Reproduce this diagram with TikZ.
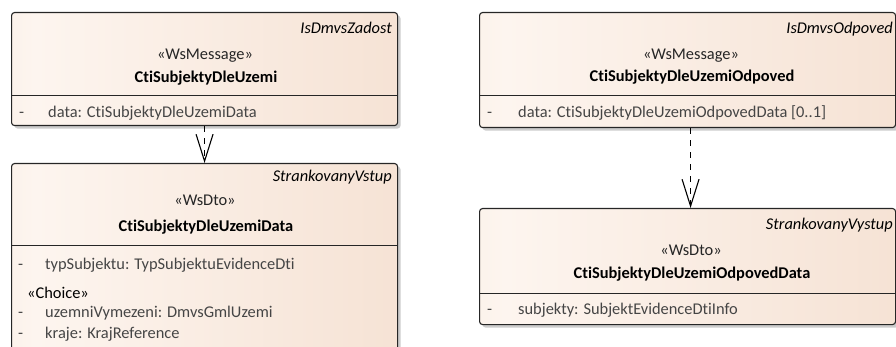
\documentclass[tikz,border=0pt]{standalone}
\usepackage{fontspec}
\setmainfont{Carlito}[Ligatures=NoCommon]
\usetikzlibrary{arrows.meta,shadows}
\definecolor{pL}{HTML}{F4DDCC}
\definecolor{pW}{HTML}{FDF5EF}
\definecolor{pR}{HTML}{F2D9C7}
\definecolor{attrgray}{HTML}{454545}
\pgfdeclarehorizontalshading{umlfill}{100bp}{color(0bp)=(pL); color(28bp)=(pW); color(100bp)=(pR)}
\newcommand\umlfont{\fontsize{16.4}{19}\selectfont}
\tikzset{
  umlbox/.style={draw=black!85, line width=1.1pt, rounded corners=3pt, shade, shading=umlfill,
    anchor=north west, inner sep=0pt,
    drop shadow={shadow xshift=3pt, shadow yshift=-3pt, fill=black!20, opacity=1}},
  sepline/.style={draw=black!85, line width=1pt},
  basetxt/.style={inner sep=0pt, font=\umlfont},
  attr/.style={basetxt, anchor=mid west, text=attrgray},
  stereo/.style={basetxt, anchor=mid, text=black!85},
  cname/.style={basetxt, anchor=mid, text=black, font=\umlfont\bfseries},
  tagtxt/.style={basetxt, anchor=mid east, text=black, font=\umlfont\itshape},
  dep/.style={draw=black, line width=1.1pt, dash pattern=on 6pt off 6pt,
    -{Straight Barb[length=27pt, width=17pt, line width=1.1pt]}}
}
\begin{document}
\begin{tikzpicture}[x=1pt, y=-1pt]
\useasboundingbox (0,0) rectangle (896,347);
\clip (0,0) rectangle (896,347);

% left top box
\node[umlbox, minimum width=386pt, minimum height=113pt] (L1) at (11,12) {};
\draw[sepline] (11,96) -- (397,96);
\node[tagtxt] (L1t) at (392,31) {IsDmvsZadost};
\node[stereo] (L1s) at (205,57) {«WsMessage»};
\node[cname] (L1n) at (206,80) {CtiSubjektyDleUzemi};
\node[attr] (L1d) at (19,115) {-};
\node[attr] (L1a) at (48,115) {data: CtiSubjektyDleUzemiData};

% left bottom box
\node[umlbox, minimum width=386pt, minimum height=220pt] (L2) at (11,163) {};
\draw[sepline] (11,246) -- (397,246);
\node[tagtxt] (L2t) at (392,179) {StrankovanyVstup};
\node[stereo] (L2s) at (205,203) {«WsDto»};
\node[cname] (L2n) at (206,229) {CtiSubjektyDleUzemiData};
\node[attr] (L2d1) at (18,267) {-};
\node[attr] (L2a1) at (45,267) {typSubjektu: TypSubjektuEvidenceDti};
\node[attr, text=black] (L2c) at (27,296) {«Choice»};
\node[attr] (L2d2) at (18,315) {-};
\node[attr] (L2a2) at (45,315) {uzemniVymezeni: DmvsGmlUzemi};
\node[attr] (L2d3) at (18,336) {-};
\node[attr] (L2a3) at (45,336) {kraje: KrajReference};

% right top box
\node[umlbox, minimum width=416pt, minimum height=115pt] (R1) at (479,12) {};
\draw[sepline] (479,96) -- (895,96);
\node[tagtxt] (R1t) at (893,31) {IsDmvsOdpoved};
\node[stereo] (R1s) at (691,57) {«WsMessage»};
\node[cname] (R1n) at (692,79) {CtiSubjektyDleUzemiOdpoved};
\node[attr] (R1d) at (487,115) {-};
\node[attr] (R1a) at (518,115) {data: CtiSubjektyDleUzemiOdpovedData [0..1]};

% right bottom box
\node[umlbox, minimum width=416pt, minimum height=116pt] (R2) at (479,208) {};
\draw[sepline] (479,293) -- (895,293);
\node[tagtxt] (R2t) at (893,227) {StrankovanyVystup};
\node[stereo] (R2s) at (691,253) {«WsDto»};
\node[cname] (R2n) at (692,276) {CtiSubjektyDleUzemiOdpovedData};
\node[attr] (R2d) at (487,312) {-};
\node[attr] (R2a) at (518,312) {subjekty: SubjektEvidenceDtiInfo};

% dependencies
\draw[dep] (L1.south) -- (L2.north);
\draw[dep] ([xshift=3pt]R1.south) -- ([xshift=3pt]R2.north);
\end{tikzpicture}
\end{document}
